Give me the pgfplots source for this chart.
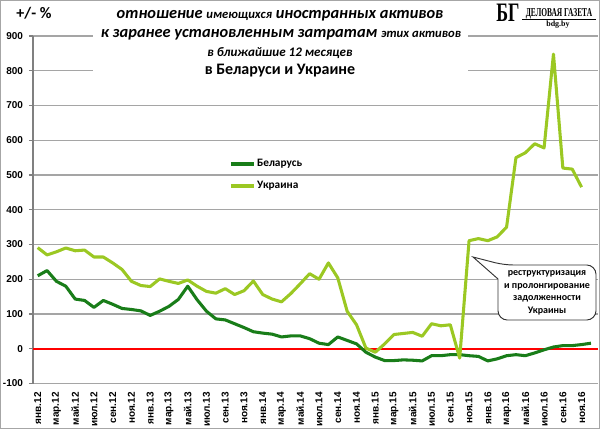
\documentclass[border=0pt]{standalone}
\usepackage{fontspec}
\setmainfont{Carlito}
\newfontfamily\arialf{Liberation Sans}
\newfontfamily\timesf{Liberation Serif}
\usepackage{pgfplots}
\pgfplotsset{compat=1.18}
\definecolor{bel}{RGB}{25,125,25}
\definecolor{ukr}{RGB}{155,200,35}
\definecolor{gridc}{RGB}{165,165,165}
\definecolor{axc}{RGB}{128,128,128}
\begin{document}
\begin{tikzpicture}[x=0.75pt,y=0.75pt]
\path[use as bounding box] (0,0) rectangle (600,429);
\begin{axis}[
  at={(24.75pt,34.125pt)}, anchor=south west, scale only axis,
  width=423.75pt, height=260.6pt,
  xmin=-0.5, xmax=59.75, ymin=-100, ymax=900,
  axis lines*=left,
  x axis line style={-, gridc, line width=1.2pt},
  y axis line style={-, axc, line width=1.5pt},
  ytick={-100,0,100,200,300,400,500,600,700,800,900},
  ymajorgrids, major grid style={gridc, line width=0.9pt},
  tick align=outside,
  ytick style={axc, line width=0.9pt}, major tick length=3pt,
  xtick style={draw=none},
  xtick={0,2,...,58},
  xticklabels={янв.12,мар.12,май.12,июл.12,сен.12,ноя.12,янв.13,мар.13,май.13,июл.13,сен.13,ноя.13,янв.14,мар.14,май.14,июл.14,сен.14,ноя.14,янв.15,мар.15,май.15,июл.15,сен.15,ноя.15,янв.16,мар.16,май.16,июл.16,сен.16,ноя.16},
  xticklabel style={rotate=90, anchor=east, font=\arialf\bfseries\fontsize{7.5}{8}\selectfont},
  yticklabel style={font=\arialf\bfseries\fontsize{7.5}{8}\selectfont, xshift=-1pt},
  /pgf/number format/assume math mode=true,
  legend style={draw=none, fill=none, at={(0.340,0.600)}, anchor=west,
    font=\bfseries\fontsize{8.5}{10}\selectfont, row sep=5.5pt,
    nodes={inner xsep=1.5pt}},
  legend cell align=left,
]
\addplot[red, line width=1.2pt, forget plot] coordinates {(-0.5,0) (59.75,0)};
\addplot[bel, line width=2.3pt, line join=round] coordinates {
(0,210) (1,225) (2,194) (3,180) (4,143) (5,139) (6,119) (7,139) (8,128) (9,116)
(10,113) (11,109) (12,96) (13,108) (14,122) (15,142) (16,180) (17,141) (18,108) (19,86)
(20,83) (21,72) (22,61) (23,49) (24,45) (25,42) (26,34) (27,37) (28,37) (29,29)
(30,16) (31,12) (32,34) (33,24) (34,14) (35,-10) (36,-24) (37,-34) (38,-34) (39,-32)
(40,-33) (41,-35) (42,-20) (43,-20) (44,-17) (45,-17) (46,-20) (47,-22) (48,-35) (49,-29)
(50,-20) (51,-17) (52,-20) (53,-12) (54,-3) (55,5) (56,9) (57,9) (58,12) (59,16)};
\addlegendentry{Беларусь}
\addplot[ukr, line width=2.3pt, line join=round] coordinates {
(0,291) (1,270) (2,279) (3,290) (4,282) (5,284) (6,264) (7,264) (8,247) (9,228)
(10,194) (11,182) (12,179) (13,201) (14,194) (15,188) (16,198) (17,180) (18,165) (19,160)
(20,173) (21,156) (22,167) (23,195) (24,156) (25,143) (26,135) (27,159) (28,187) (29,216)
(30,200) (31,247) (32,204) (33,108) (34,69) (35,2) (36,-10) (37,14) (38,41) (39,44)
(40,47) (41,36) (42,72) (43,66) (44,69) (45,-27) (46,311) (47,317) (48,311) (49,322)
(50,350) (51,550) (52,564) (53,590) (54,578) (55,848) (56,520) (57,517) (58,465)};
\addlegendentry{Украина}
\end{axis}
% title area mask
\fill[white] (93,343) rectangle (468,427);
\node[font=\bfseries\itshape\fontsize{12.3}{14}\selectfont, anchor=mid] at (280,414)
  {отношение {\fontsize{9.5}{10}\selectfont имеющихся} иностранных активов};
\node[font=\bfseries\itshape\fontsize{12.3}{14}\selectfont, anchor=mid] at (281,395)
  {к заранее установленным затратам {\fontsize{9.5}{10}\selectfont этих активов}};
\node[font=\bfseries\itshape\fontsize{9.8}{10}\selectfont, anchor=mid] at (280,376)
  {в ближайшие 12 месяцев};
\node[font=\bfseries\fontsize{12}{14}\selectfont, anchor=mid] at (280,358)
  {в Беларуси и Украине};
\node[font=\bfseries\fontsize{12}{14}\selectfont, anchor=mid] at (34,414) {+/- \%};
% logo
\node[font=\timesf\bfseries\fontsize{20}{20}\selectfont, anchor=center] at (508,416) {\scalebox{0.67}[1]{БГ}};
\node[font=\timesf\bfseries\fontsize{9}{10}\selectfont, anchor=center] at (559,415) {\scalebox{0.62}[1]{ДЕЛОВАЯ ГАЗЕТА}};
\draw[black, line width=0.5pt] (522,409.5) -- (596,409.5);
\node[font=\timesf\bfseries\fontsize{6}{7}\selectfont, anchor=center] at (558,404) {bdg.by};
% callout
\draw[black!80, line width=0.7pt, fill=white] (498,130) [rounded corners=7] -- (498,109) -- (596,109) -- (596,164) -- (504,164) [sharp corners] -- (473,172) -- (498,150) -- cycle;
\node[font=\bfseries\fontsize{7.5}{9.4}\selectfont, align=center] at (547,136)
  {реструктуризация\\и пролонгирование\\задолженности\\Украины};
% frame
\draw[gray!70, line width=0.75pt] (0.5,0.5) rectangle (599.5,428.5);
\end{tikzpicture}
\end{document}
